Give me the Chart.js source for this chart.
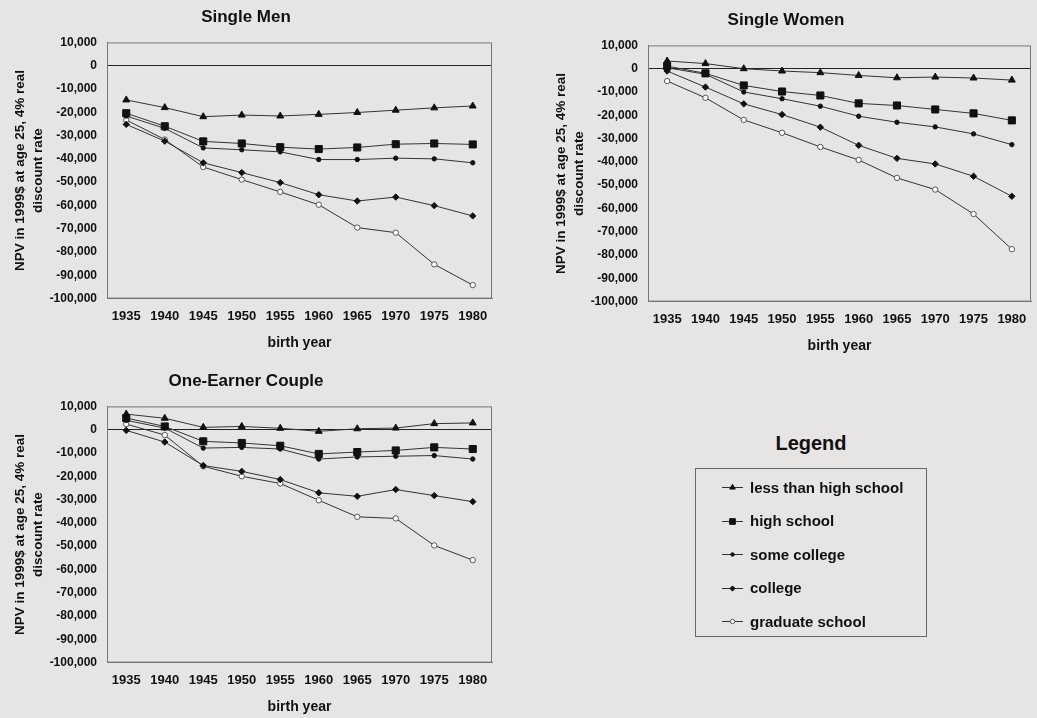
<!DOCTYPE html>
<html>
<head>
<meta charset="utf-8">
<script src="https://cdn.jsdelivr.net/npm/chart.js@4.4.1/dist/chart.umd.min.js"></script>
<style>
  body { margin: 0; background: #e6e5e3; width: 1037px; height: 718px; overflow: hidden; position: relative;
         font-family: "Liberation Sans", Arial, sans-serif; color: #111; }
  canvas.panel { position: absolute; }
  #men { left: 0; top: 0; }
  #women { left: 541px; top: 3px; }
  #couple { left: 0; top: 364px; }
  .legendTitle { position: absolute; left: 695px; width: 232px; top: 432px; text-align: center;
                 font-weight: bold; font-size: 20px; }
  .legendBox { position: absolute; left: 695px; top: 468px; width: 230px; height: 167px; border: 1px solid #666; }
  .row { position: absolute; left: 24px; height: 20px; display: flex; align-items: center;
         font-weight: bold; font-size: 15px; white-space: nowrap; }
  .row canvas { margin-right: 6px; }
</style>
</head>
<body>
<canvas id="men" class="panel" width="520" height="356"></canvas>
<canvas id="women" class="panel" width="496" height="356"></canvas>
<canvas id="couple" class="panel" width="520" height="356"></canvas>
<div class="legendTitle">Legend</div>
<div class="legendBox" id="legend"></div>

<script>
const years = ['1935', '1940', '1945', '1950', '1955', '1960', '1965', '1970', '1975', '1980'];
const seriesNames = ['less than high school', 'high school', 'some college', 'college', 'graduate school'];

// Single Men
const menLessHS   = [-14700, -18000, -21900, -21200, -21600, -20900, -20100, -19100, -18100, -17300];
const menHS       = [-20400, -26000, -32500, -33400, -35000, -35800, -35100, -33700, -33400, -33800];
const menSomeCol  = [-21600, -26900, -35300, -36100, -37000, -40300, -40300, -39700, -40000, -41700];
const menCollege  = [-25200, -32400, -41700, -45900, -50200, -55400, -58100, -56400, -60100, -64500];
const menGrad     = [-23300, -31700, -43500, -48900, -54200, -59700, -69500, -71700, -85300, -94200];

// Single Women
const womenLessHS  = [3300, 2200, 0, -1000, -1700, -2900, -3900, -3600, -4000, -4900];
const womenHS      = [1100, -2000, -7200, -9800, -11500, -14900, -15800, -17500, -19200, -22200];
const womenSomeCol = [400, -2400, -10000, -12900, -16100, -20400, -23000, -25000, -28000, -32600];
const womenCollege = [-1000, -7900, -15100, -19700, -25100, -32900, -38500, -40900, -46200, -54800];
const womenGrad    = [-5300, -12500, -22000, -27500, -33600, -39200, -46900, -51900, -62400, -77500];

// One-Earner Couple
const coupleLessHS  = [6700, 4900, 1000, 1400, 600, -700, 400, 700, 2600, 2900];
const coupleHS      = [5000, 1400, -5000, -5700, -6900, -10400, -9600, -8900, -7600, -8300];
const coupleSomeCol = [4000, 700, -7900, -7600, -8300, -12600, -11700, -11400, -11100, -12600];
const coupleCollege = [-300, -5300, -15400, -17900, -21400, -27100, -28600, -25700, -28300, -30900];
const coupleGrad    = [2400, -2300, -15700, -20000, -23100, -30300, -37400, -38100, -49700, -56000];

const FONT = '"Liberation Sans", Arial, sans-serif';
const pointStyles = ['triangle', 'rect', 'circle', 'rectRot', 'circle'];
const pointSizes = [4, 5, 2.2, 3.2, 2.7];
const pointFills = ['#111', '#111', '#111', '#111', '#fff'];

function makeDatasets(values) {
  return values.map((v, i) => ({
    label: seriesNames[i],
    data: v,
    borderColor: '#333',
    borderWidth: 1,
    tension: 0,
    pointStyle: pointStyles[i],
    pointRadius: pointSizes[i],
    pointBackgroundColor: pointFills[i],
    pointBorderColor: i === 4 ? '#555' : '#111',
    pointBorderWidth: 1
  }));
}

const framePlugin = {
  id: 'frame',
  beforeDatasetsDraw(chart) {
    const { ctx, chartArea: a } = chart;
    ctx.save();
    ctx.strokeStyle = '#777';
    ctx.lineWidth = 1;
    ctx.strokeRect(a.left + 0.5, a.top + 0.5, a.width - 1, a.height - 1);
    ctx.restore();
  }
};

function panelOptions(title, rightPad) {
  return {
    responsive: false,
    animation: false,
    layout: { padding: { left: 0, right: rightPad, top: 0, bottom: 0 } },
    plugins: {
      legend: { display: false },
      tooltip: { enabled: false },
      title: {
        display: true, text: title, color: '#111',
        font: { family: FONT, size: 17, weight: 'bold' },
        padding: { top: 7, bottom: 15 }
      }
    },
    scales: {
      x: {
        offset: true,
        grid: { display: false, drawTicks: false },
        border: { color: '#777' },
        ticks: { color: '#111', font: { family: FONT, size: 13, weight: 'bold' }, padding: 10, maxRotation: 0, autoSkip: false },
        title: { display: true, text: 'birth year', color: '#111',
                 font: { family: FONT, size: 14, weight: 'bold' }, padding: { top: 1, bottom: 4 } }
      },
      y: {
        min: -100000,
        max: 10000,
        ticks: {
          stepSize: 10000, color: '#111', padding: 10,
          font: { family: FONT, size: 12, weight: 'bold' },
          callback: v => v.toLocaleString('en-US')
        },
        grid: { drawTicks: false, color: c => (c.tick && c.tick.value === 0) ? '#222' : 'rgba(0,0,0,0)' },
        border: { color: '#777' },
        title: {
          display: true, text: ['NPV in 1999$ at age 25, 4% real', 'discount rate'], color: '#111',
          font: { family: FONT, size: 13.5, weight: 'bold', lineHeight: 1.3 }, padding: { top: 12, bottom: 0 }
        },
        afterFit: s => { s.width = 107; }
      }
    }
  };
}

new Chart(document.getElementById('men'), {
  type: 'line',
  data: { labels: years, datasets: makeDatasets([menLessHS, menHS, menSomeCol, menCollege, menGrad]) },
  options: panelOptions('Single Men', 28),
  plugins: [framePlugin]
});

new Chart(document.getElementById('women'), {
  type: 'line',
  data: { labels: years, datasets: makeDatasets([womenLessHS, womenHS, womenSomeCol, womenCollege, womenGrad]) },
  options: panelOptions('Single Women', 6),
  plugins: [framePlugin]
});

new Chart(document.getElementById('couple'), {
  type: 'line',
  data: { labels: years, datasets: makeDatasets([coupleLessHS, coupleHS, coupleSomeCol, coupleCollege, coupleGrad]) },
  options: panelOptions('One-Earner Couple', 28),
  plugins: [framePlugin]
});

// legend rows: line segment with the series marker, then the name
const legendBox = document.getElementById('legend');
seriesNames.forEach((name, i) => {
  const row = document.createElement('div');
  row.className = 'row';
  row.style.top = (8 + i * 33.5) + 'px';
  const sw = document.createElement('canvas');
  sw.width = 24; sw.height = 14;
  const c = sw.getContext('2d');
  c.strokeStyle = '#333';
  c.lineWidth = 1;
  c.beginPath(); c.moveTo(2, 7.5); c.lineTo(23, 7.5); c.stroke();
  c.fillStyle = pointFills[i];
  c.strokeStyle = i === 4 ? '#555' : '#111';
  Chart.helpers.drawPoint(c, { pointStyle: pointStyles[i], radius: pointSizes[i] * 0.8, rotation: 0, borderWidth: 1 }, 12.5, 7.5);
  const label = document.createElement('span');
  label.textContent = name;
  row.appendChild(sw);
  row.appendChild(label);
  legendBox.appendChild(row);
});
</script>
</body>
</html>
